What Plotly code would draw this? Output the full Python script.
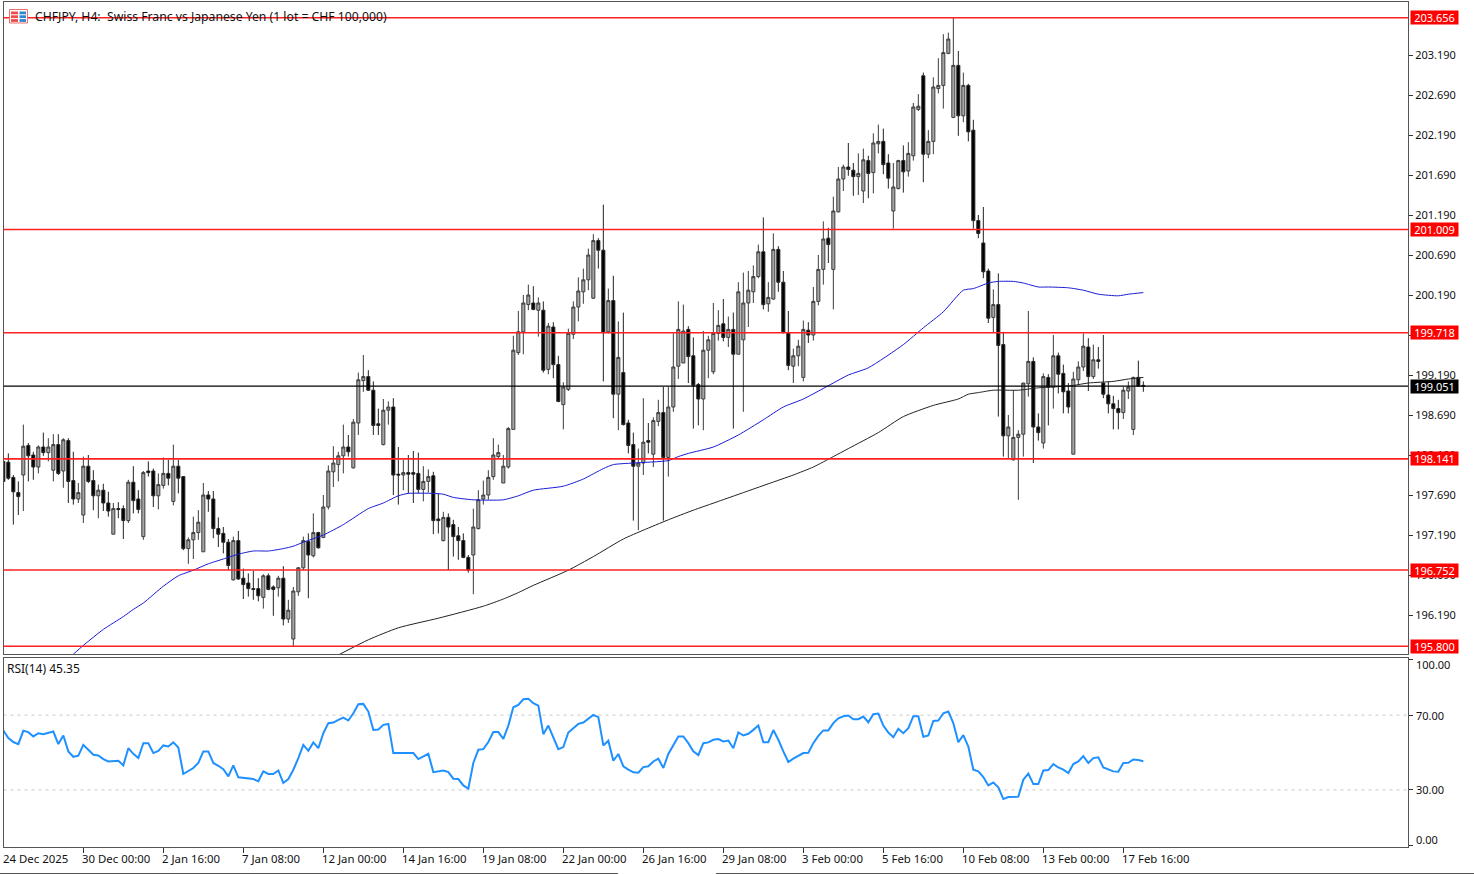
import plotly.graph_objects as go

bar_index = list(range(229))
direction = ("BBBBWBBWBW" "WBWBBWWBBW" "BBWBBWBBWB" "BWWBWBBWWW" "WBBBBBWBBB" "BBWBBWBWWW"
             "WBWBWWWWWB" "WWWBBBWWBB" "WBBBWWBBWB" "BBBBWWWWWW" "WWWWWWBWBW" "BBWWWWWWWB"
             "BWBWBBBWWB" "WWBWWWWBBB" "WWWWBWBWWW" "WWBWWBBBWW" "WBWWWBWWWB" "BWWBWWBBWW"
             "BWWWBWWWWW" "WBWBBBBBWB" "BWWWWWBBWB" "WBBBWWWBWB" "BBBBWWWBB")
highs = [198.13,198.21,197.94,197.86,198.57,198.34,198.23,198.31,198.47,198.40,
         198.45,198.45,198.40,198.40,198.23,197.84,198.17,198.19,198.00,197.82,
         197.83,197.73,197.59,197.60,197.56,197.88,198.05,197.75,197.99,198.11,
         198.02,197.96,198.16,198.13,198.32,198.13,197.92,197.16,197.42,197.50,
         197.84,197.74,197.74,197.41,197.29,197.14,197.17,197.24,196.77,196.71,
         196.74,196.65,196.70,196.71,196.56,196.68,196.80,196.38,196.54,196.79,
         197.17,197.21,197.46,197.23,197.69,198.06,198.30,198.23,198.57,198.44,
         198.64,199.22,199.44,199.25,199.11,198.77,198.89,198.86,198.90,198.29,
         198.13,198.19,198.24,198.22,198.05,198.01,197.98,197.71,197.48,197.46,
         197.38,197.29,197.21,196.94,197.52,197.75,197.87,198.00,198.40,198.32,
         198.19,198.54,199.68,199.99,200.19,200.32,200.30,200.16,200.11,199.84,
         199.85,199.43,199.10,199.77,200.11,200.41,200.52,200.77,200.95,200.90,
         201.32,200.27,200.43,199.86,199.97,198.63,198.47,198.27,198.90,198.59,
         198.66,198.88,199.04,199.04,199.71,200.11,200.07,199.80,199.66,199.09,
         199.74,199.68,200.09,200.00,200.14,199.92,199.97,200.35,200.47,200.49,
         200.56,200.82,201.16,200.35,200.96,200.80,200.49,199.99,199.52,199.63,
         199.87,199.85,200.29,200.69,201.11,201.03,201.42,201.79,201.82,202.09,
         201.84,201.96,202.02,201.93,202.21,202.32,202.27,201.95,201.84,201.88,
         202.06,202.10,202.59,202.70,202.97,202.25,202.91,203.15,203.45,203.47,
         203.66,203.24,202.97,202.83,202.38,201.19,201.29,200.52,200.26,200.46,
         199.73,198.69,199.00,198.50,199.09,199.99,199.41,198.71,199.21,199.20,
         199.69,199.47,199.32,199.09,199.23,199.36,199.71,199.65,199.57,199.54,
         199.69,199.11,198.93,198.88,199.04,199.11,199.17,199.37,199.11]
body_top = [198.11,198.10,197.91,197.72,198.30,198.31,198.19,198.29,198.29,198.29,
            198.32,198.32,198.38,198.37,197.87,197.72,198.05,198.05,197.87,197.75,
            197.75,197.59,197.52,197.52,197.52,197.85,197.85,197.64,197.97,197.99,
            197.99,197.82,197.96,197.96,198.05,198.05,197.92,197.13,197.22,197.35,
            197.69,197.69,197.64,197.27,197.21,197.10,197.12,197.12,196.65,196.59,
            196.52,196.52,196.68,196.68,196.54,196.65,196.65,196.25,196.49,196.78,
            197.12,197.11,197.22,197.22,197.54,197.99,198.09,198.18,198.29,198.29,
            198.60,199.13,199.17,199.17,199.00,198.58,198.75,198.79,198.79,197.95,
            197.97,197.97,197.97,197.96,197.86,197.92,197.93,197.39,197.41,197.41,
            197.32,197.18,197.12,196.91,197.29,197.63,197.69,197.91,198.19,198.22,
            198.05,198.52,199.50,199.73,200.09,200.19,200.09,200.09,200.00,199.80,
            199.79,199.32,199.04,199.71,200.04,200.24,200.38,200.69,200.87,200.87,
            200.75,200.12,200.12,199.41,199.22,198.59,198.32,198.09,198.35,198.37,
            198.62,198.72,198.72,198.79,199.29,199.76,199.74,199.76,199.43,199.07,
            199.50,199.63,199.71,199.81,199.83,199.76,199.76,200.23,200.09,200.25,
            200.42,200.73,200.73,200.16,200.76,200.76,200.35,199.72,199.43,199.55,
            199.76,199.75,200.11,200.51,200.89,200.90,201.24,201.64,201.79,201.79,
            201.75,201.71,201.88,201.87,202.09,202.11,202.11,201.84,201.54,201.87,
            201.87,201.96,202.54,202.55,202.93,202.11,202.79,202.81,203.22,203.39,
            203.06,203.06,202.81,202.81,202.25,201.12,200.84,200.49,200.07,200.07,
            199.57,198.54,198.41,198.45,199.09,199.36,199.36,198.54,199.17,199.16,
            199.43,199.43,199.21,198.99,199.14,199.29,199.55,199.54,199.38,199.38,
            199.09,198.94,198.83,198.77,199.00,199.04,199.16,199.16,199.06]
body_bottom = [197.86,197.90,197.73,197.67,197.94,198.18,198.04,198.04,198.22,198.22,
               198.00,197.96,197.99,197.86,197.64,197.64,197.44,197.86,197.68,197.68,
               197.59,197.49,197.20,197.51,197.37,197.37,197.62,197.51,197.17,197.97,
               197.68,197.68,197.81,197.90,197.61,197.90,197.02,197.02,197.13,197.22,
               196.98,197.64,197.27,197.20,197.10,196.81,196.63,196.64,196.57,196.52,
               196.51,196.43,196.41,196.51,196.51,196.53,196.14,196.14,195.89,196.48,
               196.78,196.94,196.93,197.03,197.16,197.54,197.98,198.07,198.18,198.23,
               198.03,198.59,199.12,199.00,198.56,198.56,198.32,198.75,197.94,197.94,
               197.94,197.95,197.95,197.76,197.76,197.86,197.37,197.37,197.12,197.29,
               197.17,197.12,196.91,196.75,196.94,197.27,197.64,197.69,197.92,198.17,
               197.84,198.04,198.51,199.47,199.73,200.07,200.01,200.00,199.25,199.26,
               199.32,198.86,198.82,199.01,199.70,200.04,200.23,200.38,200.15,200.75,
               199.72,199.73,198.95,198.95,198.57,198.31,198.05,198.05,198.09,198.35,
               198.20,198.61,198.16,198.16,198.79,199.30,199.34,199.42,199.06,198.89,
               198.89,199.50,199.23,199.71,199.66,199.66,199.45,199.45,199.63,200.09,
               200.23,200.42,200.07,200.08,200.14,200.35,199.72,199.31,199.30,199.43,
               199.16,199.69,199.69,200.11,200.51,200.82,200.51,201.23,201.64,201.76,
               201.67,201.67,201.49,201.71,201.72,202.08,201.82,201.65,201.24,201.52,
               201.73,201.74,201.93,202.51,201.95,201.95,202.11,202.77,202.81,203.21,
               202.41,202.43,202.43,202.23,201.12,200.96,200.48,199.90,199.91,199.56,
               198.43,198.43,198.13,198.41,198.45,199.08,198.54,198.47,198.34,199.04,
               199.04,199.20,198.98,198.79,198.20,199.13,199.29,199.17,199.17,199.36,
               198.95,198.83,198.77,198.72,198.72,198.99,198.51,199.05,199.05]
lows = [197.86,197.88,197.32,197.44,197.49,197.86,197.88,197.96,198.18,198.11,
        197.86,197.94,197.78,197.59,197.57,197.59,197.34,197.84,197.50,197.40,
        197.49,197.42,197.20,197.40,197.14,197.34,197.46,197.46,197.13,197.92,
        197.54,197.51,197.77,197.81,197.56,197.71,197.00,196.83,196.89,197.13,
        196.98,197.48,197.15,197.04,196.96,196.75,196.62,196.63,196.39,196.42,
        196.38,196.36,196.27,196.50,196.18,196.42,196.06,196.09,195.79,196.43,
        196.75,196.40,196.91,197.02,197.15,197.51,197.79,197.86,197.96,198.17,
        198.02,198.44,198.98,198.99,198.44,198.44,198.31,198.57,197.69,197.57,
        197.75,197.71,197.59,197.71,197.61,197.72,197.20,197.21,197.11,196.75,
        196.92,196.88,196.90,196.72,196.45,197.26,197.57,197.63,197.88,198.15,
        197.84,198.02,198.51,199.44,199.45,200.00,200.00,199.67,199.22,199.20,
        199.15,198.85,198.51,198.99,199.64,199.86,200.08,200.25,200.14,200.52,
        199.11,199.71,198.65,198.50,198.56,198.21,197.37,197.25,197.94,198.21,
        198.04,198.55,197.37,197.92,198.73,199.14,199.34,199.09,198.52,198.56,
        198.50,199.15,199.20,199.62,199.61,199.54,198.52,199.45,198.73,199.79,
        200.09,200.40,200.01,199.98,200.13,200.23,199.71,199.25,199.09,199.30,
        199.11,199.59,199.62,200.06,200.32,200.59,200.01,201.22,201.49,201.68,
        201.43,201.44,201.34,201.40,201.46,201.96,201.70,201.52,201.02,201.51,
        201.47,201.67,201.87,202.49,201.60,201.90,201.95,202.71,202.52,203.20,
        202.40,202.18,202.35,202.11,201.02,200.90,200.40,199.84,199.72,198.67,
        198.17,198.15,198.12,197.63,198.17,198.92,198.09,198.37,198.27,198.56,
        198.77,198.96,198.71,198.71,198.20,199.07,199.24,198.99,199.14,199.27,
        198.90,198.71,198.51,198.51,198.64,198.89,198.44,199.04,198.98]

ma_fast_bars = [14,16,20,24,26,28,32,35,38,41,44,47,50,53,56,58,60,64,68,73,76,79,81,86,88,90,94,100,103,106,112,116,
                120,122,126,133,135,137,142,147,152,156,160,166,169,173,180,184,188,192,194,197,199,202,204,207,209,
                213,216,219,223,225,228]
ma_fast = [195.70,195.81,196.01,196.17,196.26,196.34,196.55,196.68,196.75,196.83,196.89,196.95,196.99,196.99,197.02,
           197.05,197.10,197.19,197.32,197.52,197.59,197.68,197.71,197.71,197.70,197.66,197.63,197.63,197.68,197.75,
           197.80,197.89,198.02,198.07,198.09,198.12,198.17,198.21,198.29,198.44,198.63,198.79,198.89,199.09,199.19,
           199.28,199.57,199.78,199.98,200.25,200.27,200.34,200.36,200.36,200.34,200.29,200.29,200.28,200.25,200.20,
           200.18,200.20,200.22]
ma_slow_bars = [67,73,79,87,96,100,103,106,113,118,124,128,133,138,143,148,153,158,162,166,169,175,180,186,191,193,195,
                198,203,207,210,214,217,222,225,228]
ma_slow = [195.69,195.88,196.03,196.15,196.30,196.39,196.47,196.56,196.75,196.92,197.14,197.25,197.38,197.50,197.61,
           197.72,197.83,197.94,198.04,198.17,198.27,198.47,198.67,198.81,198.89,198.95,198.97,199.00,199.00,199.03,
           199.04,199.06,199.09,199.11,199.14,199.16]

rsi = [61.8,57.7,55.6,54.5,61.6,60.9,58.6,60.3,59.8,60.5,61.2,54.5,59.1,50.6,47.7,48.3,54.1,51.5,48.8,48.4,
       46.5,45.2,45.4,45.6,43.1,52.3,49.3,47.0,55.0,55.0,49.7,50.9,53.8,53.2,55.4,52.7,38.5,39.9,41.7,44.4,
       50.6,50.6,44.4,42.9,41.1,37.2,43.1,36.7,36.3,36.0,35.8,34.6,39.9,38.5,38.5,40.4,33.7,35.8,40.8,47.0,
       54.1,50.9,55.4,52.3,60.3,65.7,66.0,67.5,68.7,67.1,71.0,75.8,76.0,71.9,62.1,62.3,64.8,65.3,49.7,49.7,
       49.7,49.7,49.7,46.5,47.9,49.3,39.5,39.9,40.4,39.5,36.0,35.8,32.4,30.7,44.4,51.5,51.8,55.6,60.9,60.9,
       57.3,64.4,74.2,75.5,78.5,78.7,76.4,75.1,59.8,64.4,57.7,51.8,52.9,60.7,63.0,65.3,66.0,68.3,70.1,68.9,
       53.8,56.3,45.6,49.2,42.6,40.8,39.4,39.2,42.2,42.6,45.2,46.7,41.7,49.2,54.1,58.6,58.6,55.0,50.6,48.6,
       55.0,55.4,56.8,57.2,55.9,56.4,52.3,60.7,59.1,60.0,62.1,64.4,55.5,55.5,62.0,56.8,50.6,44.9,46.7,48.3,
       49.7,49.9,55.0,58.9,61.8,61.8,65.7,68.3,69.4,69.8,67.8,67.8,69.2,66.2,70.5,70.8,64.4,60.7,58.2,62.7,
       60.3,63.0,69.4,69.4,58.4,59.1,66.9,67.1,71.0,71.9,65.7,55.5,59.3,53.2,40.8,39.9,36.9,32.4,34.0,31.4,
       25.1,26.2,26.4,26.4,35.5,38.7,33.1,33.1,40.4,40.6,43.8,42.0,40.8,39.0,43.8,45.2,48.1,44.4,47.0,47.4,
       42.0,40.8,39.9,39.7,44.4,44.5,46.3,46.0,45.35]

levels = [203.656, 201.009, 199.718, 198.141, 196.752, 195.800]
last_price = 199.051
price_ticks = [203.19,202.69,202.19,201.69,201.19,200.69,200.19,199.69,199.19,198.69,198.19,197.69,197.19,196.69,196.19]
rsi_ticks = [100, 70, 30, 0]
rsi_levels = [70, 30]
tick_bars = [0,16,32,48,64,80,96,112,128,144,160,176,192,208,224]
tick_labels = ["24 Dec 2025","30 Dec 00:00","2 Jan 16:00","7 Jan 08:00","12 Jan 00:00","14 Jan 16:00","19 Jan 08:00",
               "22 Jan 00:00","26 Jan 16:00","29 Jan 08:00","3 Feb 00:00","5 Feb 16:00","10 Feb 08:00","13 Feb 00:00",
               "17 Feb 16:00"]
title_text = "CHFJPY, H4:  Swiss Franc vs Japanese Yen (1 lot = CHF 100,000)"
rsi_title = "RSI(14) 45.35"

W, H = 1474, 874
FONT = "Noto Sans"
TXT = "#111111"
LEFT, RIGHT = 3.5, 1408
MAIN_TOP, MAIN_BOT, RSI_TOP, RSI_BOT = 2, 654, 658, 847
px = lambda v: v / W
py = lambda v: 1 - v / H

opens = [b if d == "W" else t for t, b, d in zip(body_top, body_bottom, direction)]
closes = [t if d == "W" else b for t, b, d in zip(body_top, body_bottom, direction)]

fig = go.Figure()
fig.add_trace(go.Candlestick(
    x=bar_index, open=opens, high=highs, low=lows, close=closes, xaxis="x", yaxis="y",
    whiskerwidth=0, showlegend=False,
    increasing=dict(line=dict(color="#3c3c3c", width=1), fillcolor="#a6a6a6"),
    decreasing=dict(line=dict(color="#222222", width=1), fillcolor="#000000"),
))
fig.add_trace(go.Scatter(x=ma_slow_bars, y=ma_slow, mode="lines", line=dict(color="#222222", width=1, shape="spline", smoothing=0.6),
                         xaxis="x", yaxis="y", showlegend=False))
fig.add_trace(go.Scatter(x=ma_fast_bars, y=ma_fast, mode="lines", line=dict(color="#1a1ad6", width=1, shape="spline", smoothing=0.6),
                         xaxis="x", yaxis="y", showlegend=False))
fig.add_trace(go.Scatter(x=bar_index, y=rsi, mode="lines", line=dict(color="#1E90FF", width=2),
                         xaxis="x2", yaxis="y2", showlegend=False))

shapes = []
for lv in levels:
    shapes.append(dict(type="line", xref="x domain", yref="y", x0=0, x1=1, y0=lv, y1=lv,
                       line=dict(color="#ff2020", width=1.6), layer="above"))
shapes.append(dict(type="line", xref="x domain", yref="y", x0=0, x1=1, y0=last_price, y1=last_price,
                   line=dict(color="#000000", width=1.2), layer="above"))
for lv in rsi_levels:
    shapes.append(dict(type="line", xref="x2 domain", yref="y2", x0=0, x1=1, y0=lv, y1=lv,
                       line=dict(color="#c8c8c8", width=1, dash="3px,4px"), layer="below"))

# window edge strip along the bottom of the screenshot
for x0, x1 in [(0, 618), (716, 1474)]:
    shapes.append(dict(type="line", xref="paper", yref="paper", x0=px(x0), x1=px(x1), y0=py(873.5), y1=py(873.5),
                       line=dict(color="#555555", width=1), layer="above"))

# small symbol icon next to the title
shapes.append(dict(type="rect", xref="paper", yref="paper", x0=px(9.5), x1=px(27.5), y0=py(23), y1=py(9.5),
                   line=dict(color="#e87070", width=1), fillcolor="#ffffff", layer="above"))
for r in range(3):
    y0 = 11.5 + r * 3.8
    shapes.append(dict(type="rect", xref="paper", yref="paper", x0=px(11), x1=px(18), y0=py(y0 + 2.8), y1=py(y0),
                       line=dict(width=0), fillcolor="#ef4b4b", layer="above"))
    shapes.append(dict(type="rect", xref="paper", yref="paper", x0=px(19.5), x1=px(26), y0=py(y0 + 2.8), y1=py(y0),
                       line=dict(width=0), fillcolor="#2f86c8", layer="above"))

xr = [(LEFT - 3.33) / 5, (RIGHT - 3.33) / 5]

ann = []
ann.append(dict(text=title_text, xref="paper", yref="paper", x=px(33), y=py(17), xanchor="left", yanchor="middle",
                showarrow=False, font=dict(family=FONT, size=12.2, color=TXT)))
ann.append(dict(text=rsi_title, xref="paper", yref="paper", x=px(5), y=py(668.5), xanchor="left", yanchor="middle",
                showarrow=False, font=dict(family=FONT, size=12, color=TXT)))
for lv in levels:
    ann.append(dict(text=f"{lv:.3f}", xref="paper", yref="y", x=px(1410), y=lv, xanchor="left", yanchor="middle",
                    showarrow=False, bgcolor="#ff0000", width=47, height=13, borderpad=0, align="center",
                    font=dict(family=FONT, size=11, color="#ffffff")))
ann.append(dict(text=f"{last_price:.3f}", xref="paper", yref="y", x=px(1410), y=last_price, xanchor="left",
                yanchor="middle", showarrow=False, bgcolor="#000000", width=47, height=13, borderpad=0, align="center",
                font=dict(family=FONT, size=11, color="#ffffff")))
for b, t in zip(tick_bars, tick_labels):
    ann.append(dict(text=t, xref="x2", yref="paper", x=max(b, xr[0]), y=py(858.5), xanchor="left", yanchor="middle",
                    xshift=-3, showarrow=False, font=dict(family=FONT, size=11.4, color=TXT)))
for v in rsi_ticks:
    shift = -5 if v == 100 else (6 if v == 0 else 0)
    ann.append(dict(text=f"{v:.2f}", xref="paper", yref="y2", x=px(1414), y=v, xanchor="left", yanchor="middle",
                    yshift=shift, showarrow=False, font=dict(family=FONT, size=11, color=TXT)))

frame = dict(showline=True, linecolor="#555555", linewidth=1, mirror=True, showgrid=False, zeroline=False)
fig.update_layout(
    width=W, height=H, margin=dict(l=0, r=0, t=0, b=0), paper_bgcolor="white", plot_bgcolor="white",
    hovermode=False, showlegend=False, boxgap=0.22, boxgroupgap=0.22,
    shapes=shapes, annotations=ann, font=dict(family=FONT, size=11, color=TXT),
    xaxis=dict(domain=[px(LEFT), px(RIGHT)], range=xr, anchor="y", rangeslider=dict(visible=False),
               showticklabels=False, ticks="", **frame),
    yaxis=dict(domain=[py(MAIN_BOT), py(MAIN_TOP)], range=[203.8775 - MAIN_BOT / 80, 203.8775 - MAIN_TOP / 80],
               anchor="x", side="right", tickvals=price_ticks, ticktext=[f"{v:.3f}" for v in price_ticks],
               ticks="outside", ticklen=4, tickcolor="#333333", tickfont=dict(family=FONT, size=11, color=TXT),
               **frame),
    xaxis2=dict(domain=[px(LEFT), px(RIGHT)], range=xr, anchor="y2", tickvals=tick_bars, showticklabels=False,
                ticks="outside", ticklen=5, tickcolor="#333333", **frame),
    yaxis2=dict(domain=[py(RSI_BOT), py(RSI_TOP)], range=[-0.55, 100.55], anchor="x2", side="right",
                tickvals=rsi_ticks, showticklabels=False, ticks="outside", ticklen=4, tickcolor="#333333", **frame),
)
fig.write_html("out.html", config={"displayModeBar": False},
               post_script="document.body.style.margin='0';document.body.style.overflow='hidden';")
